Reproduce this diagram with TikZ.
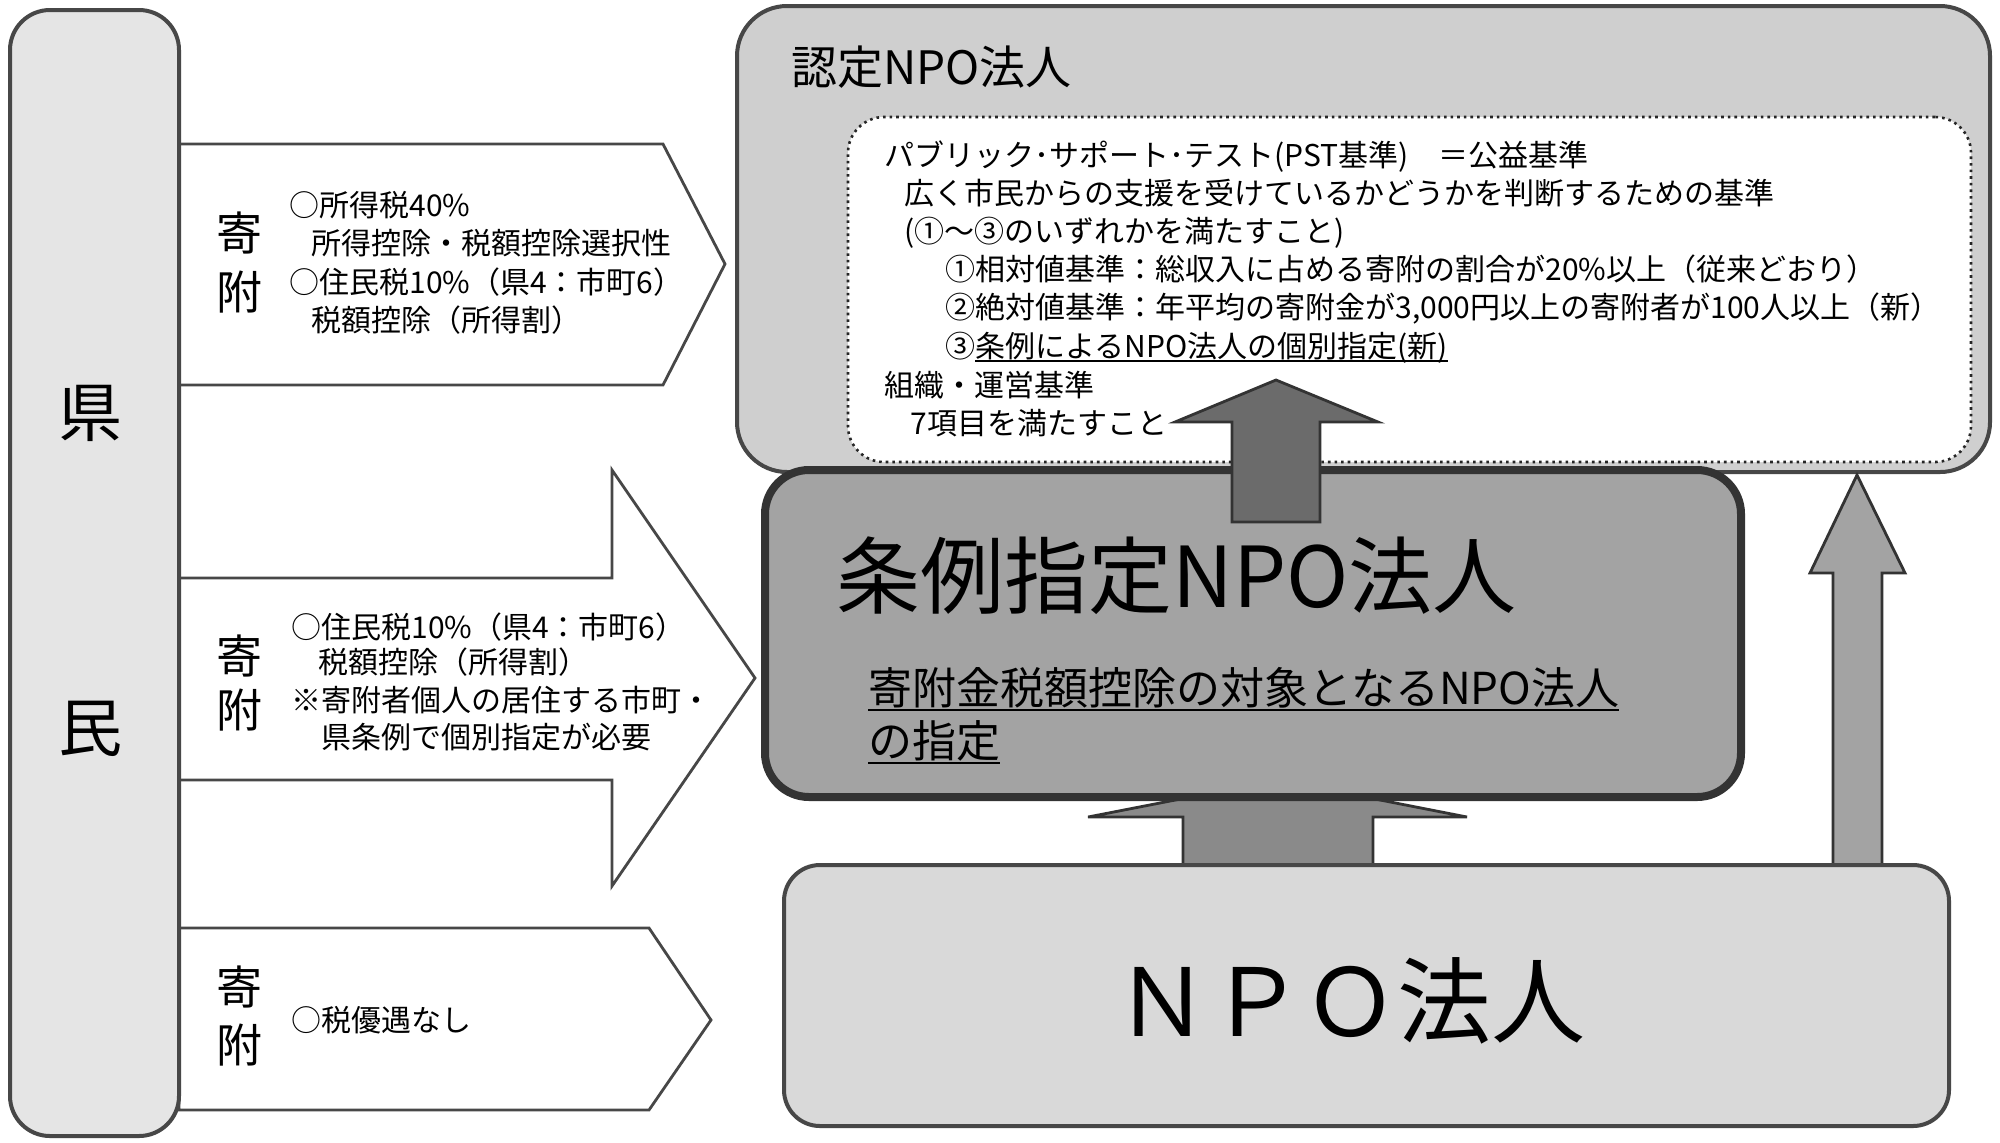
\documentclass[tikz,border=0pt]{standalone}
\usepackage{fontspec}
\newfontfamily\jp{Noto Sans CJK JP}
\usetikzlibrary{fit}
\newcommand\myul[1]{\setbox0\hbox{#1}\rlap{\rule[-0.17em]{\wd0}{1.1pt}}\box0}
\definecolor{barfill}{gray}{0.90}
\definecolor{outerfill}{gray}{0.81}
\definecolor{jfill}{gray}{0.64}
\definecolor{npofill}{gray}{0.85}
\definecolor{edge}{gray}{0.28}
\definecolor{upA}{gray}{0.42}
\definecolor{upB}{gray}{0.54}
\definecolor{upC}{gray}{0.64}
\tikzset{
  rbox/.style={inner sep=0pt, draw=edge, line width=2pt},
  blockarrow/.style={draw=edge, line width=1.4pt, fill=white, line join=miter},
  uparr/.style={draw=black!80, line width=1.4pt, line join=miter},
  txt/.style={font=\jp\fontsize{15pt}{18pt}\selectfont, inner sep=0pt, anchor=base west},
  kifu/.style={font=\jp\fontsize{23pt}{26pt}\selectfont, inner sep=0pt, anchor=base},
  kenmin/.style={font=\jp\fontsize{32pt}{36pt}\selectfont, inner sep=0pt, anchor=base},
}
\begin{document}
\begin{tikzpicture}[x=0.5pt,y=-0.5pt]
\useasboundingbox (0,0) rectangle (2000,1142);
\fill[white] (0,0) rectangle (2000,1142);

% ---- donation arrows ----
\draw[blockarrow] (179,144) -- (663,144) -- (725,264) -- (663,385) -- (179,385) -- cycle;
\draw[blockarrow] (179,578) -- (612,578) -- (612,470) -- (755,678) -- (612,886) -- (612,780) -- (179,780) -- cycle;
\draw[blockarrow] (179,928) -- (649,928) -- (711,1020) -- (649,1110) -- (179,1110) -- cycle;

% ---- left bar ----
\node[rbox, fill=barfill, rounded corners=20pt, fit={(10,10)(179,1136)}] (kenbar) {};
\node[kenmin] (ken) at (90,436) {県};
\node[kenmin] (min) at (90,751) {民};

% ---- arrow texts ----
\node[kifu] (k1a) at (239,250) {寄};
\node[kifu] (k1b) at (239,309) {附};
\node[txt] (a1l1) at (289,216) {○所得税40\%};
\node[txt] (a1l2) at (311,254) {所得控除・税額控除選択性};
\node[txt] (a1l3) at (289,293) {○住民税10\%（県4：市町6）};
\node[txt] (a1l4) at (311,331) {税額控除（所得割）};

\node[kifu] (k2a) at (239,673) {寄};
\node[kifu] (k2b) at (239,727) {附};
\node[txt] (a2l1) at (291,638) {○住民税10\%（県4：市町6）};
\node[txt] (a2l2) at (318,673) {税額控除（所得割）};
\node[txt] (a2l3) at (291,711) {※寄附者個人の居住する市町・};
\node[txt] (a2l4) at (321,748) {県条例で個別指定が必要};

\node[kifu] (k3a) at (239,1004) {寄};
\node[kifu] (k3b) at (239,1062) {附};
\node[txt] (a3l1) at (291,1031) {○税優遇なし};

% ---- 認定NPO法人 ----
\node[rbox, fill=outerfill, rounded corners=25pt, fit={(737,6)(1990,472)}] (nintei) {};
\node[font=\jp\fontsize{23pt}{26pt}\selectfont, inner sep=0pt, anchor=base west] (ntitle) at (791,84) {認定NPO法人};
\node[inner sep=0pt, draw=black!85, dotted, line width=1.3pt, fill=white, rounded corners=18pt, fit={(848,117)(1971,462)}] (pst) {};
\node[txt] (p1) at (884,166) {パブリック･サポート･テスト(PST基準)　＝公益基準};
\node[txt] (p2) at (904,204) {広く市民からの支援を受けているかどうかを判断するための基準};
\node[txt] (p3) at (904,242) {(①～③のいずれかを満たすこと)};
\node[txt] (p4) at (945,280) {①相対値基準：総収入に占める寄附の割合が20\%以上（従来どおり）};
\node[txt] (p5) at (945,318) {②絶対値基準：年平均の寄附金が3,000円以上の寄附者が100人以上（新）};
\node[txt] (p6) at (945,357) {③\myul{条例によるNPO法人の個別指定(新)}};
\node[txt] (p7) at (884,396) {組織・運営基準};
\node[txt] (p8) at (910,434) {7項目を満たすこと};

% ---- right arrow NPO -> 認定 ----
\draw[uparr, fill=upC] (1833,865) -- (1833,573) -- (1810,573) -- (1857,475) -- (1905,573) -- (1882,573) -- (1882,865) -- cycle;

% ---- lower arrow NPO -> 条例 ----
\draw[uparr, fill=upB] (1183,866) -- (1183,817) -- (1088,817) -- (1278,780) -- (1467,817) -- (1373,817) -- (1373,866) -- cycle;

% ---- NPO法人 ----
\node[rbox, fill=npofill, rounded corners=18pt, fit={(784,865)(1949,1126)}] (npo) {};
\node[font=\jp\fontsize{47pt}{52pt}\selectfont, inner sep=0pt, anchor=base] (npot) at (1350,1036) {ＮＰＯ法人};

% ---- 条例指定NPO法人 ----
\node[inner sep=0pt, draw=black!80, line width=4pt, fill=jfill, rounded corners=22pt, fit={(765,470)(1741,797)}] (jorei) {};
\node[font=\jp\fontsize{42pt}{46pt}\selectfont, inner sep=0pt, anchor=base west] (jtitle) at (836,607) {条例指定NPO法人};
\node[font=\jp\fontsize{22pt}{26pt}\selectfont, inner sep=0pt, anchor=base west] (js1) at (868,704) {\myul{寄附金税額控除の対象となるNPO法人}};
\node[font=\jp\fontsize{22pt}{26pt}\selectfont, inner sep=0pt, anchor=base west] (js2) at (868,757) {\myul{の指定}};

% ---- upper arrow 条例 -> 認定 ----
\draw[uparr, fill=upA] (1232,522) -- (1232,422) -- (1175,422) -- (1276,380) -- (1378,422) -- (1320,422) -- (1320,522) -- cycle;
\end{tikzpicture}
\end{document}
